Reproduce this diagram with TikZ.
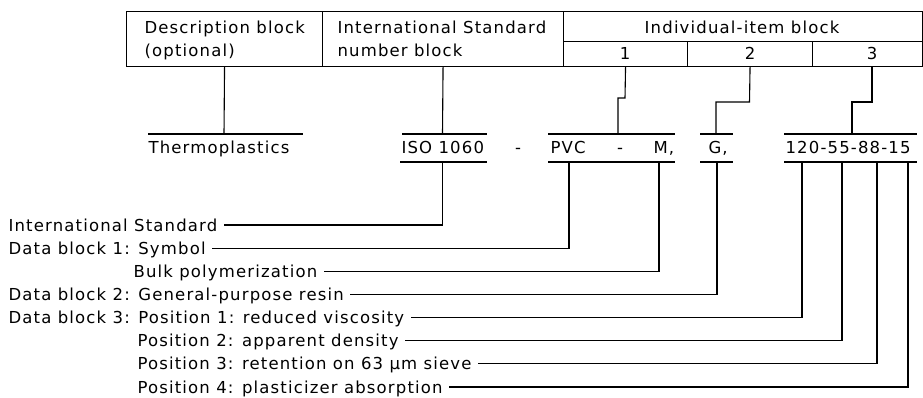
\documentclass[tikz,border=0pt]{standalone}
\usepackage{fontspec}
\newfontfamily\isofont[LetterSpace=7]{DejaVu Sans}
\begin{document}
\begin{tikzpicture}[x=1pt,y=-1pt,line width=1.1pt,
  cell/.style={draw,anchor=north west,inner sep=0pt},
  txt/.style={font=\isofont\fontsize{16.5}{20}\selectfont,inner sep=0pt,text height=12pt,text depth=0pt},
  lead/.style={line width=1.1pt}]
\useasboundingbox (0,0) rectangle (923,397);
% header table
\node[cell,minimum width=196pt,minimum height=55pt] (desc) at (126,11) {};
\node[cell,minimum width=241pt,minimum height=55pt] (isn) at (322,11) {};
\node[cell,minimum width=359pt,minimum height=30pt] (ind) at (563,11) {};
\node[cell,minimum width=124pt,minimum height=25pt] (c1) at (563,41) {};
\node[cell,minimum width=125pt,minimum height=25pt] (c2) at (687,41) {};
\node[cell,minimum width=110pt,minimum height=25pt] (c3) at (812,41) {};
\node[txt,anchor=west] (tdesc1) at (144,27) {Description block};
\node[txt,anchor=west] (tdesc2) at (144,50) {(optional)};
\node[txt,anchor=west] (tisn1) at (337,27) {International Standard};
\node[txt,anchor=west] (tisn2) at (337,50) {number block};
\node[txt] (tind) at (742,27) {Individual-item block};
\node[txt] (n1) at (625,53) {1};
\node[txt] (n2) at (750,53) {2};
\node[txt] (n3) at (872,53) {3};
% middle row
\node[txt,anchor=west] (thermo) at (148,147) {Thermoplastics};
\node[txt,anchor=west] (iso) at (401,147) {ISO 1060};
\node[txt] (dash1) at (518,147) {-};
\node[txt,anchor=west] (pvc) at (550,147) {PVC};
\node[txt] (dash2) at (620,147) {-};
\node[txt,anchor=west] (m) at (653,147) {M,};
\node[txt,anchor=west] (g) at (708,147) {G,};
\node[txt,anchor=west] (codes) at (785,147) {120-55-88-15};
% bracket lines
\draw (148,134) -- (303,134);
\draw (402,134) -- (487,134);
\draw (400,162) -- (487,162);
\draw (548,134) -- (675,134);
\draw (548,162) -- (675,162);
\draw (700,134) -- (733,134);
\draw (700,162) -- (733,162);
\draw (784,134) -- (917,134);
\draw (784,162) -- (917,162);
% upper connectors
\draw[lead] (desc.south) -- (224,134);
\draw[lead] (isn.south) -- (442.5,134);
\draw[lead] (c1.south) -- (625,98) -- (618,98) -- (618,134);
\draw[lead] (c2.south) -- (749.5,102) -- (716,102) -- (716,134);
\draw[lead] (n3 |- c3.south) -- (872,102) -- (852,102) -- (852,134);
% legend texts
\node[txt,anchor=west] (l1) at (8,225) {International Standard};
\node[txt,anchor=west] (l2) at (8,248.1) {Data block 1: Symbol};
\node[txt,anchor=west] (l3) at (133,271.3) {Bulk polymerization};
\node[txt,anchor=west] (l4) at (8,294.4) {Data block 2: General-purpose resin};
\node[txt,anchor=west] (l5) at (8,317.6) {Data block 3: Position 1: reduced viscosity};
\node[txt,anchor=west] (l6) at (137,340.7) {Position 2: apparent density};
\node[txt,anchor=west] (l7) at (137,363.9) {Position 3: retention on 63 µm sieve};
\node[txt,anchor=west] (l8) at (137,387) {Position 4: plasticizer absorption};
% lower connectors
\coordinate (isoB) at (442.5,162);
\coordinate (pvcB) at (569,162);
\coordinate (mB) at (659,162);
\coordinate (gB) at (717,162);
\coordinate (p1B) at (802,162);
\coordinate (p2B) at (842,162);
\coordinate (p3B) at (877,162);
\coordinate (p4B) at (908,162);
\draw[lead] (isoB) |- ([xshift=6pt]l1.east);
\draw[lead] (pvcB) |- ([xshift=6pt]l2.east);
\draw[lead] (mB) |- ([xshift=6pt]l3.east);
\draw[lead] (gB) |- ([xshift=6pt]l4.east);
\draw[lead] (p1B) |- ([xshift=6pt]l5.east);
\draw[lead] (p2B) |- ([xshift=6pt]l6.east);
\draw[lead] (p3B) |- ([xshift=6pt]l7.east);
\draw[lead] (p4B) |- ([xshift=6pt]l8.east);
\end{tikzpicture}
\end{document}
